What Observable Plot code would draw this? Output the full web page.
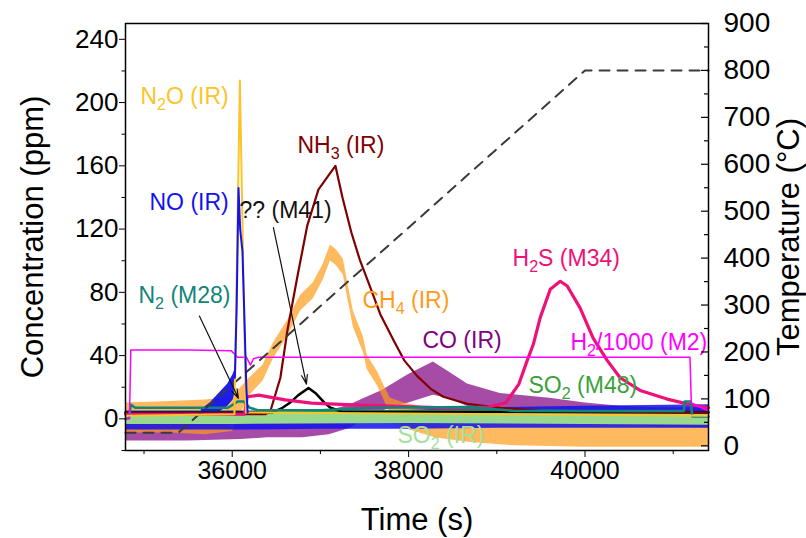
<!DOCTYPE html>
<html>
<head>
<meta charset="utf-8">
<script src="https://cdn.jsdelivr.net/npm/d3@7"></script>
<script src="https://cdn.jsdelivr.net/npm/@observablehq/plot@0.6"></script>
<style>
  html, body { margin: 0; padding: 0; background: white; }
  #chart svg { display: block; }
</style>
</head>
<body>
<div id="chart"></div>
<script>
// ---- tick values ----
const timeTicks = [36000, 38000, 40000];
const timeMinor = [35000, 37000, 39000, 41000];
const concTicks = [0, 40, 80, 120, 160, 200, 240];
const concMinor = [-20, 20, 60, 100, 140, 180, 220];
const tempTicks = [0, 100, 200, 300, 400, 500, 600, 700, 800, 900];
const tempMinor = [50, 150, 250, 350, 450, 550, 650, 750, 850];

// ---- series: [time (s), value] ----
const temperature = [[34790, 28], [35390, 28], [40000, 800], [41400, 800]];
const n2oIR = [[34790, 2], [36025, 3], [36087, 214], [36155, 4], [41400, 2]];
const noPeak = [[36030, 26], [36050, 70], [36071, 146], [36090, 120], [36116, 106], [36140, 60], [36160, 20], [36175, 4]];
const nh3IR = [[34790, 3], [36380, 3], [36433, 5], [36546, 26], [36626, 56], [36739, 90], [36850, 122], [36977, 145], [37080, 153], [37170, 160], [37250, 140], [37350, 118], [37450, 100], [37560, 84], [37680, 66], [37826, 50], [37950, 37], [38098, 27], [38250, 19], [38393, 14], [38665, 9.5], [39039, 7], [39500, 5], [41400, 4]];
const h2sM34 = [[34790, 3], [36140, 3], [36170, 14], [36300, 15], [36600, 12], [36900, 10], [37300, 9], [37800, 8], [38400, 7], [38900, 7.5], [39100, 10], [39250, 22], [39345, 37], [39413, 47], [39492, 64], [39606, 82], [39719, 87], [39798, 84], [39945, 70], [40092, 51], [40251, 37], [40398, 26], [40625, 18], [40931, 12.5], [41157, 9.5], [41300, 8], [41400, 7]];
const h2M2 = [[34790, 0], [34835, 0], [34850, 43.5], [35500, 43.5], [35990, 43], [36060, 39], [36160, 39], [36207, 34], [36240, 38], [36300, 39], [41190, 39], [41205, 10], [41400, 5]];
const n2M28 = [[34790, 0], [34830, 0.5], [34850, 9], [34900, 7], [35950, 7], [36010, 9], [36060, 11], [36130, 11], [36200, 7], [36290, 5.5], [37000, 5.5], [37600, 7], [38700, 7.5], [39200, 5], [41120, 5], [41130, 11], [41200, 11], [41215, 1.5], [41400, 1.5]];
const m41 = [[34790, 4], [36450, 4], [36570, 7], [36650, 10], [36750, 15], [36865, 19.5], [36950, 16], [37050, 10], [37114, 7], [37250, 4.5], [41400, 4]];
const so2M48 = [[34790, 4], [36000, 4], [38000, 5], [39000, 5.5], [40000, 5], [41400, 4]];

// ---- noisy series as envelopes: [time, low, high] ----
const so2IR = [[34790, -3.5, 4.5], [36000, -3.5, 4.5], [38000, -3, 5], [40000, -3.5, 4.5], [41400, -4, 4]];
const noBase = [[34790, -7, 5], [35600, -7, 5], [36200, -7, 5], [37000, -6.5, 5], [38000, -6.5, 5.5], [39000, -6, 7], [40000, -6, 8], [41400, -6, 9]];
const noRise = [[35650, -2, 6], [35750, 1, 10], [35850, 4, 16], [35950, 8, 22], [36010, 12, 28], [36035, 16, 32]];
const coIR = [[34790, -14, -3], [35500, -14, -3], [36100, -13, -2], [36400, -12, 0], [36800, -12, 3], [37100, -10, 5], [37340, -6, 9], [37500, 0, 13], [37700, 5, 18], [38000, 10, 28], [38280, 15, 36], [38450, 13, 30], [38667, 8, 22], [39040, 4, 16], [39600, 2, 13], [40000, 0, 10], [40400, -3, 8], [40800, -5, 7], [41400, -6, 7]];
const ch4IR = [[34790, -9, 10], [35300, -9, 11], [35700, -10, 12], [36000, -8, 14], [36200, 15, 26], [36350, 24, 34], [36467, 38, 48], [36626, 52, 62], [36773, 68, 78], [36920, 76, 86], [37033, 88, 98], [37113, 100, 110], [37180, 97, 107], [37260, 91, 101], [37317, 74, 84], [37374, 58, 68], [37487, 42, 52], [37532, 31, 40], [37646, 21, 30], [37713, 13, 22], [37793, 3, 13], [37950, -6, 10], [38300, -12, 6], [38700, -15, 4], [39200, -17, 4], [40000, -18, 4], [41400, -18, 4]];

// ---- annotations ----
const labels = [
  {text: "N_2O (IR)", t: 34960, c: 203.8, color: "#fbc52a"},
  {text: "NO (IR)", t: 35062, c: 136.7, color: "#1212ee"},
  {text: "?? (M41)", t: 36083, c: 131.6, color: "#111111"},
  {text: "NH_3 (IR)", t: 36740, c: 172.8, color: "#800000"},
  {text: "N_2 (M28)", t: 34937, c: 77.8, color: "#10857a"},
  {text: "CH_4 (IR)", t: 37477, c: 74.7, color: "#ff9b1a"},
  {text: "CO (IR)", t: 38157, c: 49.4, color: "#800080"},
  {text: "H_2S (M34)", t: 39178, c: 101.3, color: "#ee1177"},
  {text: "H_2/1000 (M2)", t: 39835, c: 48.1, color: "#ff00ff"},
  {text: "SO_2 (M48)", t: 39359, c: 20.9, color: "#3aa23a"},
  {text: "SO_2 (IR)", t: 37874, c: -10.8, color: "#a3e09a"}
];
const arrows = [
  {x1: 35628, y1: 65, x2: 36070, y2: 13},
  {x1: 36467, y1: 121, x2: 36841, y2: 22}
];

// ---- layout ----
const W = 806, H = 538, mL = 125, mR = 98, mT = 23, mB = 88;
const innerW = W - mL - mR;
// right axis (temperature) mapped onto the concentration scale
const toLeft = T => -20 + (T + 10) * 270 / 910;
const fromLeft = c => Math.round((c + 20) * 910 / 270 - 10);

const pts = arr => arr.map(([t, v]) => ({t, v}));
const env = arr => arr.map(([t, lo, hi]) => ({t, lo, hi}));
const line = (arr, stroke, w) => Plot.line(pts(arr), {x: "t", y: "v", stroke, strokeWidth: w, strokeLinejoin: "round"});
const band = (arr, fill, op) => Plot.areaY(env(arr), {x: "t", y1: "lo", y2: "hi", fill, fillOpacity: op});

const font = '"Liberation Sans", Arial, Helvetica, sans-serif';

const chart = Plot.plot({
  width: W, height: H,
  marginLeft: mL, marginRight: mR, marginTop: mT, marginBottom: mB,
  x: {domain: [34790, 41400]},
  y: {domain: [-20, 250]},
  color: {type: "identity"},
  style: {fontFamily: font, fontSize: "24px", color: "black", background: "white", overflow: "visible"},
  marks: [
    band(coIR, "#800080", 0.7),
    band(ch4IR, "#ff9b1a", 0.7),
    band(noBase, "#1212ee", 0.85),
    band(noRise, "#1212ee", 0.95),
    band(so2IR, "#98d98e", 1),
    line(so2M48, "#33a02c", 2),
    line(m41, "#000000", 2.5),
    line(nh3IR, "#800000", 2.2),
    line(h2sM34, "#ee1177", 3.2),
    line(n2M28, "#10857a", 2.5),
    line(h2M2, "#ff00ff", 1.5),
    Plot.line(temperature.map(([t, T]) => ({t, v: toLeft(T)})), {x: "t", y: "v", stroke: "#3a3a3a", strokeWidth: 2, strokeDasharray: "10,8"}),
    line(n2oIR, "#fbc52a", 2),
    line(noPeak, "#1212ee", 2),
    Plot.arrow(arrows, {x1: "x1", y1: "y1", x2: "x2", y2: "y2", stroke: "#111", strokeWidth: 1.2, headLength: 12, headAngle: 35}),
    Plot.text(labels, {x: "t", y: "c", text: "text", fill: "color", textAnchor: "start", lineAnchor: "middle", fontSize: 23}),
    Plot.frame({stroke: "black", strokeWidth: 1.5}),
    Plot.axisX({ticks: timeTicks, tickSize: 7, tickPadding: 4, tickFormat: d3.format("d"), fontSize: 25, label: null}),
    Plot.axisX({ticks: timeMinor, tickSize: 4, tickFormat: () => "", label: null}),
    Plot.axisY({ticks: concTicks, tickSize: 6, tickPadding: 1, fontSize: 26, label: null}),
    Plot.axisY({ticks: concMinor, tickSize: 3.5, tickFormat: () => "", label: null}),
    Plot.axisY({anchor: "right", ticks: tempTicks.map(toLeft), tickSize: 0, tickPadding: 15, tickFormat: fromLeft, fontSize: 28, label: null}),
    Plot.tickY(tempTicks.map(toLeft), {y: d => d, insetLeft: innerW - 7, stroke: "black", strokeWidth: 1.2}),
    Plot.tickY(tempMinor.map(toLeft), {y: d => d, insetLeft: innerW - 4, stroke: "black", strokeWidth: 1.2}),
    Plot.text(["Concentration (ppm)"], {text: d => d, frameAnchor: "left", textAnchor: "middle", rotate: -90, dx: -92, fontSize: 31, lineAnchor: "middle"}),
    Plot.text(["Temperature (°C)"], {text: d => d, frameAnchor: "right", textAnchor: "middle", rotate: -90, dx: 81, fontSize: 31, lineAnchor: "middle"}),
    Plot.text(["Time (s)"], {text: d => d, frameAnchor: "bottom", textAnchor: "middle", dy: 70, fontSize: 31, lineAnchor: "middle"})
  ]
});

// subscripts for chemical formulas
chart.querySelectorAll("text").forEach(t => {
  const s = t.textContent;
  if (!s.includes("_")) return;
  t.textContent = "";
  const parts = s.split(/_(\d)/);
  let lowered = false;
  parts.forEach((p, i) => {
    if (p === "") return;
    const ts = document.createElementNS("http://www.w3.org/2000/svg", "tspan");
    ts.textContent = p;
    if (i % 2 === 1) {
      ts.setAttribute("font-size", "70%");
      ts.setAttribute("dy", "6");
      lowered = true;
    } else if (lowered) {
      ts.setAttribute("dy", "-6");
      lowered = false;
    }
    t.appendChild(ts);
  });
});

document.getElementById("chart").appendChild(chart);
</script>
</body>
</html>
